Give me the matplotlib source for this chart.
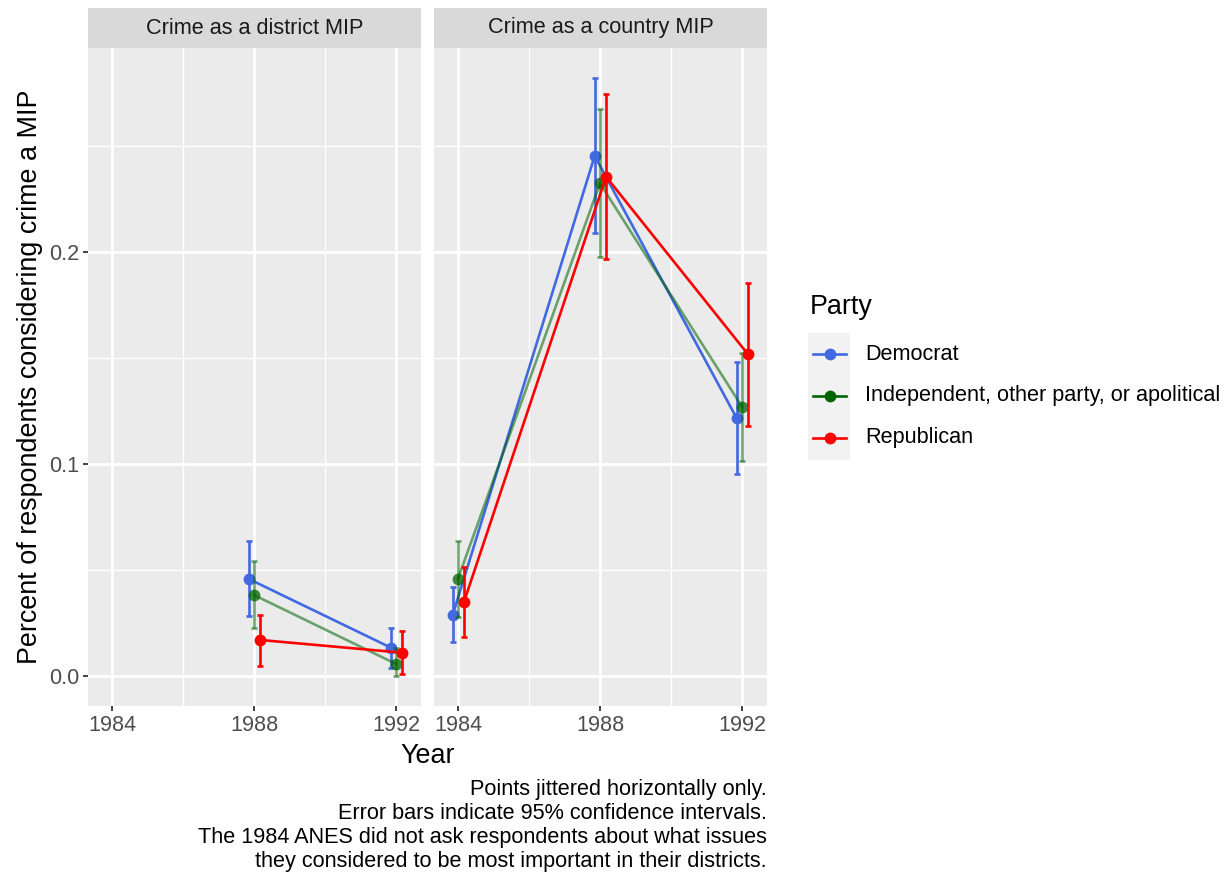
import numpy as np
import matplotlib
matplotlib.use("Agg")
import matplotlib.pyplot as plt
from matplotlib.lines import Line2D
from matplotlib.patches import Rectangle

plt.rcParams['font.family'] = ['Liberation Sans', 'DejaVu Sans']

# ---------------- data ----------------
years = [1984, 1988, 1992]
parties = ["Democrat", "Independent, other party, or apolitical", "Republican"]
party_colors = ["#4169E1", "#006400", "#FF0000"]
party_alpha = [1.0, 0.55, 1.0]
jitter = [-0.15, 0.0, 0.17]          # horizontal jitter per party (years)
facets = ["Crime as a district MIP", "Crime as a country MIP"]

nan = np.nan
# district MIP (1984 not asked)
dist_mean = [[nan, 0.0458, 0.0134],
             [nan, 0.0382, 0.0057],
             [nan, 0.0170, 0.0110]]
dist_lo = [[nan, 0.0283, 0.0039],
           [nan, 0.0226, 0.0000],
           [nan, 0.0049, 0.0011]]
dist_hi = [[nan, 0.0637, 0.0228],
           [nan, 0.0542, 0.0130],
           [nan, 0.0288, 0.0214]]
# country MIP
ctry_mean = [[0.0288, 0.2453, 0.1216],
             [0.0459, 0.2324, 0.1270],
             [0.0350, 0.2355, 0.1517]]
ctry_lo = [[0.0162, 0.2091, 0.0951],
           [0.0280, 0.1978, 0.1016],
           [0.0185, 0.1968, 0.1179]]
ctry_hi = [[0.0418, 0.2819, 0.1480],
           [0.0638, 0.2673, 0.1522],
           [0.0516, 0.2745, 0.1854]]

x_ticks = [1984, 1988, 1992]
x_minor = [1986, 1990]
y_ticks = [0.0, 0.1, 0.2]
y_minor = [0.05, 0.15, 0.25]

caption = ("Points jittered horizontally only.\n"
           "Error bars indicate 95% confidence intervals.\n"
           "The 1984 ANES did not ask respondents about what issues\n"
           "they considered to be most important in their districts.")

# ---------------- layout ----------------
W, H = 1230, 873
fig = plt.figure(figsize=(W / 100, H / 100), dpi=100)

FS_SMALL = 15.6
FS_TITLE = 19.4


def fx(px):
    return px / W


def fy(py):
    return 1 - py / H


def box(x0, y0, x1, y1):
    return [fx(x0), fy(y1), fx(x1) - fx(x0), fy(y0) - fy(y1)]


panel_x = [(88, 421), (434, 767)]
panel_top, panel_bot = 48, 706
strip_top = 8

tick_col = "#4D4D4D"
xlim = (1983.324, 1992.704)
ylim = (-0.01415, 0.2962)

data_sets = [(dist_mean, dist_lo, dist_hi), (ctry_mean, ctry_lo, ctry_hi)]

for i, (x0, x1) in enumerate(panel_x):
    ax = fig.add_axes(box(x0, panel_top, x1, panel_bot))
    ax.set_facecolor("#EBEBEB")
    for s in ax.spines.values():
        s.set_visible(False)
    ax.set_xlim(*xlim)
    ax.set_ylim(*ylim)
    ax.set_xticks(x_ticks)
    ax.set_xticks(x_minor, minor=True)
    ax.set_yticks(y_ticks)
    ax.set_yticks(y_minor, minor=True)
    ax.grid(True, which="major", color="white", lw=2.0)
    ax.grid(True, which="minor", color="white", lw=1.0)
    ax.set_axisbelow(True)
    ax.tick_params(which="minor", length=0)
    ax.tick_params(which="major", length=3.5, width=1.3, color="#333333",
                   labelsize=FS_SMALL, labelcolor=tick_col, pad=3)
    ax.set_xticklabels([str(v) for v in x_ticks])
    if i == 0:
        ax.set_yticklabels([f"{v:.1f}" for v in y_ticks])
    else:
        ax.tick_params(axis="y", left=False, labelleft=False)

    mean, lo, hi = data_sets[i]
    for p in range(len(parties)):
        xs = np.array(years, dtype=float) + jitter[p]
        m = np.array(mean[p])
        l = np.array(lo[p])
        h = np.array(hi[p])
        col = party_colors[p]
        a = party_alpha[p]
        ok = ~np.isnan(m)
        ax.errorbar(xs[ok], m[ok], yerr=[m[ok] - l[ok], h[ok] - m[ok]],
                    fmt="none", ecolor=col, alpha=a, elinewidth=1.9,
                    capsize=2.3, capthick=1.9, zorder=3 + p)
        ax.plot(xs[ok], m[ok], color=col, alpha=a, lw=1.9, zorder=3 + p)
        ax.plot(xs[ok], m[ok], "o", color=col,
                alpha=min(1.0, a + 0.2), ms=8.5, mec="none", zorder=3 + p)

    # strip
    sax = fig.add_axes(box(x0, strip_top, x1, panel_top))
    sax.set_facecolor("#D9D9D9")
    sax.set_xticks([])
    sax.set_yticks([])
    for s in sax.spines.values():
        s.set_visible(False)
    sax.text(0.5, 0.5, facets[i], ha="center", va="center",
             fontsize=FS_SMALL, color="#1A1A1A", transform=sax.transAxes)

# axis titles
fig.text(fx(30), fy((panel_top + panel_bot) / 2),
         "Percent of respondents considering crime a MIP",
         rotation=90, ha="center", va="center", fontsize=FS_TITLE)
fig.text(fx((88 + 767) / 2), fy(756), "Year", ha="center", va="center",
         fontsize=FS_TITLE)

# caption
fig.text(fx(767), fy(779), caption, ha="right", va="top", fontsize=FS_SMALL,
         linespacing=1.19)

# legend
fig.text(fx(810), fy(307), "Party", ha="left", va="center", fontsize=FS_TITLE)
fig.add_artist(Rectangle((fx(808), fy(460)), fx(850) - fx(808),
                         fy(333) - fy(460), transform=fig.transFigure,
                         facecolor="#F2F2F2", edgecolor="none"))
row_y = [354, 396, 438]
for p in range(len(parties)):
    yy = fy(row_y[p])
    fig.add_artist(Line2D([fx(813), fx(846)], [yy, yy], color=party_colors[p],
                          lw=1.9, transform=fig.transFigure))
    fig.add_artist(Line2D([fx(829.5)], [yy], marker="o", ms=8.5,
                          color=party_colors[p], mec="none",
                          transform=fig.transFigure))
    fig.text(fx(865), yy, parties[p], ha="left", va="center",
             fontsize=FS_SMALL)

fig.savefig("out.png", dpi=100, facecolor="white")
